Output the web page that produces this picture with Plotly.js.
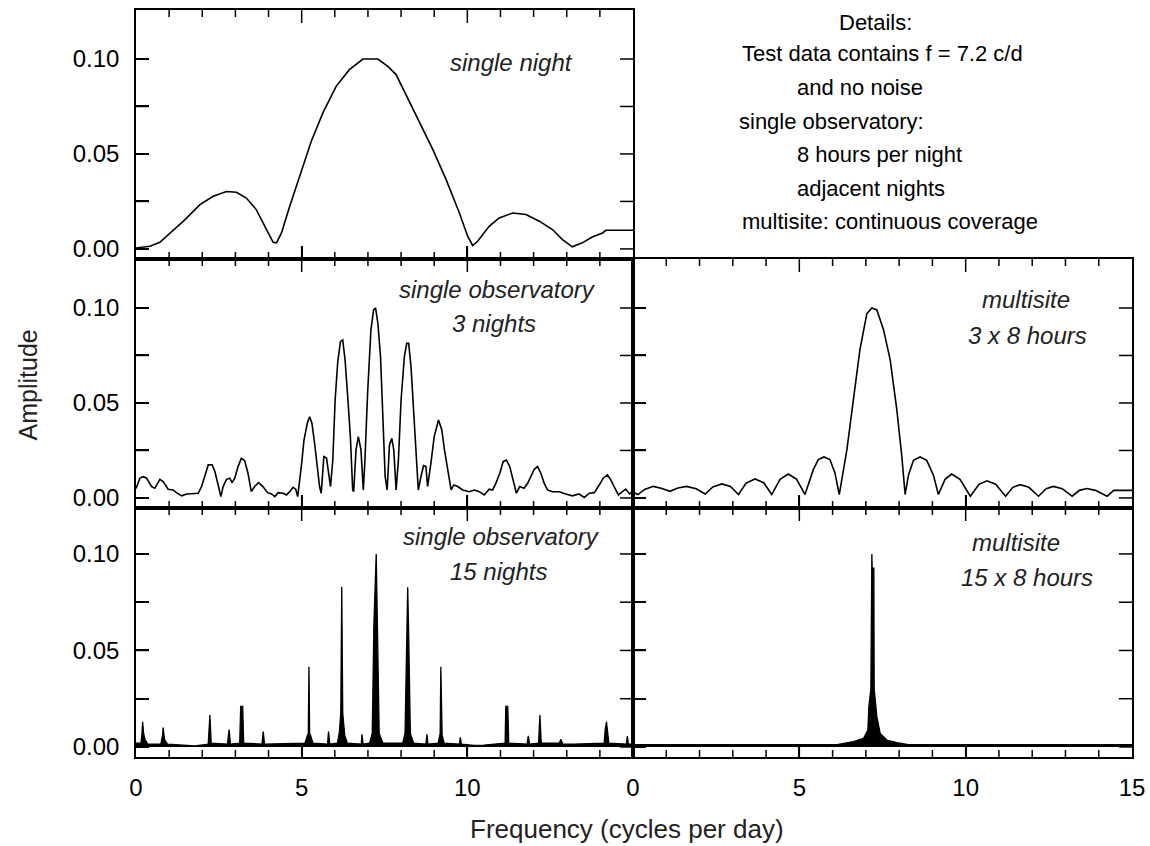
<!DOCTYPE html>
<html>
<head>
<meta charset="utf-8">
<script src="https://cdn.plot.ly/plotly-3.0.1.min.js"></script>
<style>html,body{margin:0;padding:0;background:#fff;}#chart{width:1150px;height:846px;} .modebar-container{display:none !important;}</style>
</head>
<body>
<div id="chart"></div>
<script>
// ---- Data ----
// Panel 1: single night
const freqNight = [0, 0.42, 0.72, 1.07, 1.48, 1.93, 2.33, 2.73, 3.03, 3.33, 3.63, 3.94, 4.14, 4.24, 4.39, 4.64, 4.94, 5.29, 5.64, 6.04, 6.44, 6.85, 7.3, 7.6, 7.85, 8.15, 8.6, 8.96, 9.36, 9.76, 10.01, 10.16, 10.31, 10.66, 10.96, 11.37, 11.77, 12.17, 12.57, 12.87, 13.17, 13.47, 13.77, 14.08, 14.18, 15];
const ampNight = [0.0005, 0.0014, 0.0035, 0.0088, 0.0154, 0.0233, 0.0277, 0.0302, 0.0298, 0.0268, 0.0207, 0.0102, 0.0035, 0.0032, 0.0084, 0.0225, 0.0382, 0.0567, 0.0716, 0.0856, 0.0944, 0.1, 0.1, 0.0961, 0.0918, 0.0812, 0.0654, 0.0523, 0.0365, 0.0189, 0.0067, 0.0018, 0.004, 0.0119, 0.0163, 0.0189, 0.0181, 0.0146, 0.0102, 0.0049, 0.0011, 0.0032, 0.0063, 0.0084, 0.0098, 0.0098];

// Panel 2: single observatory, 3 nights
const freq3N = [0, 0.12, 0.22, 0.32, 0.47, 0.57, 0.72, 0.82, 0.97, 1.12, 1.22, 1.38, 1.53, 1.88, 1.98, 2.08, 2.18, 2.3, 2.38, 2.48, 2.56, 2.63, 2.73, 2.83, 2.9, 2.98, 3.08, 3.18, 3.28, 3.38, 3.48, 3.58, 3.7, 3.83, 3.97, 4.09, 4.19, 4.29, 4.44, 4.54, 4.64, 4.74, 4.82, 4.88, 4.95, 5.0, 5.07, 5.17, 5.24, 5.31, 5.39, 5.47, 5.54, 5.59, 5.67, 5.75, 5.81, 5.87, 5.94, 6.01, 6.09, 6.17, 6.24, 6.31, 6.39, 6.47, 6.54, 6.57, 6.64, 6.71, 6.79, 6.86, 6.91, 6.99, 7.09, 7.17, 7.23, 7.3, 7.38, 7.45, 7.52, 7.58, 7.65, 7.72, 7.78, 7.85, 7.92, 8.0, 8.1, 8.17, 8.23, 8.3, 8.37, 8.45, 8.52, 8.6, 8.68, 8.75, 8.8, 8.9, 9.0, 9.13, 9.23, 9.31, 9.41, 9.51, 9.59, 9.71, 9.86, 10.06, 10.21, 10.36, 10.51, 10.66, 10.76, 10.86, 10.98, 11.08, 11.18, 11.28, 11.38, 11.48, 11.58, 11.71, 11.82, 11.92, 12.02, 12.12, 12.22, 12.32, 12.42, 12.57, 12.77, 12.97, 13.17, 13.37, 13.53, 13.68, 13.83, 13.98, 14.1, 14.23, 14.33, 14.43, 14.56, 14.68, 14.78, 14.9, 15];
const amp3N = [0.005, 0.0105, 0.0112, 0.0104, 0.006, 0.0051, 0.0098, 0.0086, 0.0046, 0.0042, 0.0028, 0.0011, 0.0021, 0.0025, 0.006, 0.0121, 0.0174, 0.0174, 0.0139, 0.0068, 0.0007, 0.006, 0.0098, 0.0104, 0.0081, 0.0104, 0.0165, 0.0209, 0.0196, 0.013, 0.0033, 0.006, 0.0081, 0.006, 0.0028, 0.0021, 0.0007, 0.0028, 0.0025, 0.0016, 0.0033, 0.0056, 0.0046, 0.0007, 0.0095, 0.0182, 0.0305, 0.0393, 0.0428, 0.0393, 0.0288, 0.0182, 0.006, 0.0025, 0.0218, 0.021, 0.0139, 0.006, 0.02, 0.0516, 0.0718, 0.0823, 0.0832, 0.0726, 0.0533, 0.0323, 0.0042, 0.0033, 0.0253, 0.0323, 0.0253, 0.0042, 0.02, 0.0551, 0.0884, 0.099, 0.1, 0.0919, 0.0744, 0.0463, 0.0112, 0.0042, 0.0279, 0.0314, 0.0253, 0.0042, 0.02, 0.0516, 0.0744, 0.0814, 0.0814, 0.0691, 0.0481, 0.0253, 0.0042, 0.0112, 0.017, 0.0165, 0.006, 0.0182, 0.0323, 0.041, 0.0358, 0.0253, 0.0147, 0.0042, 0.0068, 0.006, 0.0042, 0.0033, 0.0042, 0.0033, 0.0016, 0.0046, 0.0042, 0.0077, 0.013, 0.0191, 0.02, 0.0165, 0.0095, 0.0025, 0.006, 0.0051, 0.0077, 0.0112, 0.0151, 0.0165, 0.013, 0.0077, 0.0042, 0.0033, 0.0033, 0.0021, 0.0011, 0.0021, 0.0003, 0.0025, 0.0028, 0.0068, 0.0104, 0.0121, 0.0095, 0.006, 0.0016, 0.0033, 0.0046, 0.0021, 0.0035];

// Panel 3: single observatory, 15 nights
const freq15N = [0, 0.15, 0.18, 0.2, 0.23, 0.27, 0.35, 0.75, 0.8, 0.82, 0.86, 0.95, 1.2, 1.78, 2.18, 2.23, 2.27, 2.76, 2.81, 2.85, 3.13, 3.16, 3.22, 3.25, 3.8, 3.84, 3.88, 5.1, 5.17, 5.2, 5.22, 5.24, 5.27, 5.34, 5.78, 5.81, 5.85, 6.08, 6.14, 6.18, 6.21, 6.24, 6.3, 6.38, 6.8, 6.82, 6.85, 7.05, 7.13, 7.18, 7.25, 7.28, 7.34, 7.45, 8.05, 8.12, 8.16, 8.2, 8.23, 8.28, 8.38, 8.75, 8.78, 8.81, 9.12, 9.16, 9.18, 9.2, 9.22, 9.24, 9.3, 9.76, 9.79, 9.82, 10.2, 10.5, 11.14, 11.16, 11.22, 11.25, 11.8, 11.84, 11.88, 12.15, 12.19, 12.23, 12.78, 12.82, 12.88, 13.24, 14.13, 14.16, 14.2, 14.23, 14.27, 14.8, 14.83, 14.86, 15];
const amp15N = [0.002, 0.002, 0.007, 0.013, 0.007, 0.004, 0.0015, 0.0015, 0.006, 0.01, 0.004, 0.0015, 0.0012, 0.0005, 0.0015, 0.0166, 0.002, 0.0015, 0.009, 0.0015, 0.002, 0.021, 0.021, 0.002, 0.0015, 0.008, 0.0015, 0.002, 0.006, 0.007, 0.0416, 0.007, 0.006, 0.002, 0.0015, 0.008, 0.0015, 0.002, 0.008, 0.0174, 0.083, 0.0174, 0.006, 0.002, 0.0015, 0.0066, 0.0015, 0.002, 0.007, 0.064, 0.1, 0.064, 0.007, 0.002, 0.002, 0.007, 0.058, 0.0827, 0.058, 0.007, 0.002, 0.0015, 0.0066, 0.0015, 0.002, 0.006, 0.007, 0.0416, 0.007, 0.006, 0.002, 0.0015, 0.005, 0.0015, 0.0008, 0.001, 0.002, 0.021, 0.021, 0.002, 0.0015, 0.0057, 0.0015, 0.002, 0.0166, 0.002, 0.002, 0.004, 0.0015, 0.0015, 0.002, 0.009, 0.013, 0.009, 0.002, 0.0015, 0.0057, 0.0015, 0.0015];

// Panel 4: multisite, 3 x 8 hours
const freqM3 = [0, 0.15, 0.35, 0.61, 0.87, 1.11, 1.35, 1.61, 1.9, 2.17, 2.4, 2.67, 2.93, 3.17, 3.4, 3.67, 3.93, 4.17, 4.42, 4.67, 4.92, 5.17, 5.42, 5.57, 5.74, 5.92, 6.07, 6.2, 6.43, 6.63, 6.82, 7.03, 7.18, 7.33, 7.53, 7.73, 7.93, 8.08, 8.18, 8.28, 8.43, 8.63, 8.83, 9.03, 9.18, 9.38, 9.58, 9.83, 10.14, 10.4, 10.64, 10.9, 11.2, 11.42, 11.64, 11.9, 12.19, 12.42, 12.64, 12.9, 13.2, 13.42, 13.64, 13.9, 14.25, 14.45, 15];
const ampM3 = [0.003, 0.0018, 0.0045, 0.0061, 0.005, 0.0035, 0.0052, 0.0061, 0.0048, 0.0021, 0.0058, 0.0074, 0.006, 0.0018, 0.0078, 0.01, 0.008, 0.0018, 0.0098, 0.0126, 0.0098, 0.0018, 0.0149, 0.0202, 0.0216, 0.0202, 0.0132, 0.0018, 0.0254, 0.052, 0.078, 0.097, 0.1, 0.099, 0.0886, 0.0728, 0.0465, 0.022, 0.0018, 0.012, 0.0198, 0.0216, 0.0198, 0.012, 0.0018, 0.0098, 0.0126, 0.0098, 0.0009, 0.0072, 0.009, 0.0072, 0.0009, 0.0056, 0.007, 0.0056, 0.0009, 0.0049, 0.0061, 0.0049, 0.0009, 0.004, 0.005, 0.004, 0.0009, 0.004, 0.004];

// Panel 5: multisite, 15 x 8 hours
const freqM15 = [0, 6.13, 6.63, 6.93, 7.06, 7.09, 7.15, 7.16, 7.17, 7.18, 7.19, 7.24, 7.25, 7.3, 7.33, 7.43, 7.63, 7.93, 8.28, 15];
const ampM15 = [0.0012, 0.0012, 0.0028, 0.0045, 0.0088, 0.021, 0.03, 0.0926, 0.1, 0.1, 0.0926, 0.0926, 0.03, 0.021, 0.0157, 0.007, 0.0036, 0.0022, 0.0012, 0.0012];

// Tick values / labels
const xTickVals = [0, 5, 10, 15];
const xInnerMajor = [5, 10];
const xMinorVals = [1, 2, 3, 4, 6, 7, 8, 9, 11, 12, 13, 14];
const xTickTextLeft = ['0', '5', '10', ''];
const xTickTextRight = ['0', '5', '10', '15'];
const yTickVals = [0, 0.025, 0.05, 0.075, 0.1];
const yTickText = ['0.00', '', '0.05', '', '0.10'];

const panelLabels = [
  {text: 'single night', x: 11.32, y: 0.0984, ax: 'x', ay: 'y'},
  {text: 'single observatory', x: 10.9, y: 0.1095, ax: 'x2', ay: 'y2'},
  {text: '3 nights', x: 10.8, y: 0.0916, ax: 'x2', ay: 'y2'},
  {text: 'single observatory', x: 11.04, y: 0.1093, ax: 'x3', ay: 'y3'},
  {text: '15 nights', x: 10.95, y: 0.0907, ax: 'x3', ay: 'y3'},
  {text: 'multisite', x: 11.82, y: 0.1047, ax: 'x4', ay: 'y4'},
  {text: '3 x 8 hours', x: 11.85, y: 0.0853, ax: 'x4', ay: 'y4'},
  {text: 'multisite', x: 11.52, y: 0.1057, ax: 'x5', ay: 'y5'},
  {text: '15 x 8 hours', x: 11.85, y: 0.0876, ax: 'x5', ay: 'y5'}
];
const detailLines = [
  {text: 'Details:', x: 0.742, y: 0.9826, anchor: 'center'},
  {text: 'Test data contains f = 7.2 c/d', x: 0.6064, y: 0.9424, anchor: 'left'},
  {text: 'and no noise', x: 0.6616, y: 0.8956, anchor: 'left'},
  {text: 'single observatory:', x: 0.6034, y: 0.8514, anchor: 'left'},
  {text: '8 hours per night', x: 0.6616, y: 0.8059, anchor: 'left'},
  {text: 'adjacent nights', x: 0.6616, y: 0.7617, anchor: 'left'},
  {text: 'multisite: continuous coverage', x: 0.6064, y: 0.7175, anchor: 'left'}
];

// ---- Build the figure ----
const FONT = 'Liberation Sans, Arial, Helvetica, sans-serif';
const RANGE_X = [0, 15];
const RANGE_TM = [-0.0053, 0.1258];
const RANGE_B = [-0.0052, 0.1238];
const PANEL_W = 497, PANEL_H = 249;   // panel size in pixels (for tick lengths)

const lineTrace = (x, y, xa, ya) => ({x: x, y: y, xaxis: xa, yaxis: ya, type: 'scatter', mode: 'lines',
  line: {color: '#000', width: 1.6}, showlegend: false});
const fillTrace = (x, y, xa, ya) => ({x: x, y: y, xaxis: xa, yaxis: ya, type: 'scatter', mode: 'lines',
  line: {color: '#000', width: 1.3}, fill: 'tozeroy', fillcolor: '#000', showlegend: false});

// Inside tick marks on all four sides of a panel, placed at the tick values through the panel's axes
function tickTrace(xa, ya, yr) {
  const pxY = (yr[1] - yr[0]) / PANEL_H, pxX = (RANGE_X[1] - RANGE_X[0]) / PANEL_W;
  const X = [], Y = [];
  const vTick = (v, len) => {
    X.push(v, v, null, v, v, null);
    Y.push(yr[0], yr[0] + len * pxY, null, yr[1], yr[1] - len * pxY, null);
  };
  xInnerMajor.forEach(v => vTick(v, 13));
  xMinorVals.forEach(v => vTick(v, 7));
  yTickVals.forEach(v => {
    X.push(RANGE_X[0], RANGE_X[0] + 13 * pxX, null, RANGE_X[1], RANGE_X[1] - 13 * pxX, null);
    Y.push(v, v, null, v, v, null);
  });
  return {x: X, y: Y, xaxis: xa, yaxis: ya, type: 'scatter', mode: 'lines', connectgaps: false,
    line: {color: '#000', width: 1.5}, hoverinfo: 'skip', showlegend: false};
}

const data = [
  lineTrace(freqNight, ampNight, 'x', 'y'),
  lineTrace(freq3N, amp3N, 'x2', 'y2'),
  fillTrace(freq15N, amp15N, 'x3', 'y3'),
  lineTrace(freqM3, ampM3, 'x4', 'y4'),
  fillTrace(freqM15, ampM15, 'x5', 'y5'),
  tickTrace('x', 'y', RANGE_TM),
  tickTrace('x2', 'y2', RANGE_TM),
  tickTrace('x3', 'y3', RANGE_B),
  tickTrace('x4', 'y4', RANGE_TM),
  tickTrace('x5', 'y5', RANGE_B)
];

const LEFT = [0, 0.499], RIGHT = [0.499, 1];
const TOP = [0.6667, 1], MID = [0.3333, 0.6667], BOT = [0, 0.3333];

function xAx(domain, anchor, labels) {
  return {domain: domain, anchor: anchor, range: RANGE_X, showgrid: false, zeroline: false,
    showline: true, linecolor: '#000', linewidth: 1.6, mirror: true,
    ticks: 'inside', ticklen: 13, tickwidth: 1.5, tickcolor: 'black',
    tickmode: 'array', tickvals: xTickVals, ticktext: labels || xTickTextLeft,
    showticklabels: !!labels, ticklabelstandoff: 8,
    tickfont: {family: FONT, size: 24, color: '#000'}};
}
function yAx(domain, anchor, labels, range) {
  return {domain: domain, anchor: anchor, range: range, showgrid: false, zeroline: false,
    showline: true, linecolor: '#000', linewidth: 1.6, mirror: true,
    ticks: 'inside', ticklen: 13, tickwidth: 1.5, tickcolor: 'black',
    tickmode: 'array', tickvals: yTickVals, ticktext: yTickText,
    showticklabels: labels, ticklabelstandoff: 10,
    tickfont: {family: FONT, size: 24, color: '#000'}};
}

const annotations = [];
panelLabels.forEach(p => annotations.push({text: p.text, x: p.x, y: p.y, xref: p.ax, yref: p.ay,
  showarrow: false, xanchor: 'center', yanchor: 'middle',
  font: {family: FONT, size: 24, color: '#222', style: 'italic'}}));
detailLines.forEach(d => annotations.push({text: d.text, x: d.x, y: d.y, xref: 'paper', yref: 'paper',
  showarrow: false, xanchor: d.anchor, yanchor: 'middle',
  font: {family: FONT, size: 22, color: '#000'}}));
annotations.push({text: 'Amplitude', x: -0.108, y: 0.498, xref: 'paper', yref: 'paper', textangle: -90,
  showarrow: false, xanchor: 'center', yanchor: 'middle', font: {family: FONT, size: 25, color: '#222'}});
annotations.push({text: 'Frequency (cycles per day)', x: 0.493, y: -0.0964, xref: 'paper', yref: 'paper',
  showarrow: false, xanchor: 'center', yanchor: 'middle', font: {family: FONT, size: 26, color: '#222'}});

const layout = {
  width: 1150, height: 846,
  margin: {l: 136, r: 18, t: 10, b: 89, pad: 0},
  paper_bgcolor: '#fff', plot_bgcolor: 'rgba(0,0,0,0)',
  showlegend: false,
  xaxis: xAx(LEFT, 'y', null),
  yaxis: yAx(TOP, 'x', true, RANGE_TM),
  xaxis2: xAx(LEFT, 'y2', null),
  yaxis2: yAx(MID, 'x2', true, RANGE_TM),
  xaxis3: xAx(LEFT, 'y3', xTickTextLeft),
  yaxis3: yAx(BOT, 'x3', true, RANGE_B),
  xaxis4: xAx(RIGHT, 'y4', null),
  yaxis4: yAx(MID, 'x4', false, RANGE_TM),
  xaxis5: xAx(RIGHT, 'y5', xTickTextRight),
  yaxis5: yAx(BOT, 'x5', false, RANGE_B),
  annotations: annotations
};

Plotly.newPlot('chart', data, layout);
</script>
</body>
</html>
